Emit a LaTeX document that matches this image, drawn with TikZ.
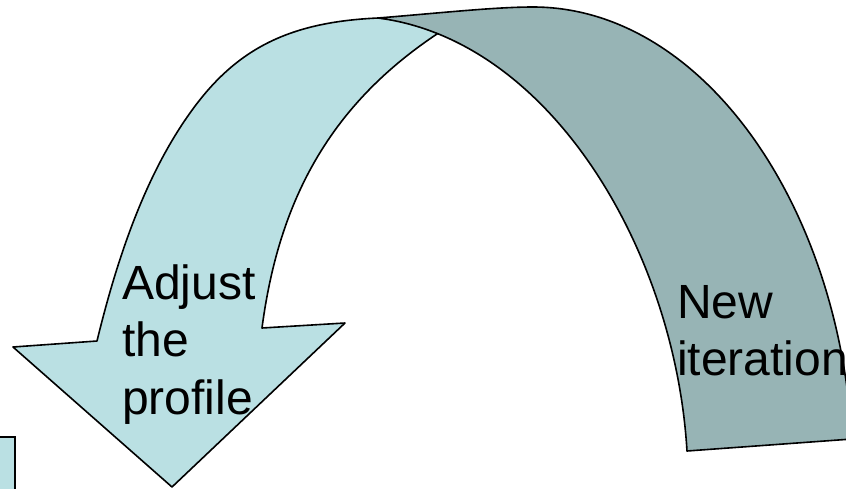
\documentclass[tikz,border=0pt]{standalone}
\usepackage{fontspec}
\setmainfont{Liberation Sans}
\definecolor{lightband}{RGB}{186,224,227}
\definecolor{darkband}{RGB}{151,180,181}
\begin{document}
\begin{tikzpicture}[x=1pt,y=-1pt,
  band/.style={draw=black, line width=1.6pt, line join=round},
  lbl/.style={font=\fontsize{48}{57.5}\selectfont, align=left, inner sep=0pt, anchor=base west}]
\useasboundingbox (0,0) rectangle (846,488);
\clip (0,0) rectangle (846,488);
% small box at the lower left corner
\draw[line width=2.5pt, fill=lightband] (-10,437) rectangle (15,500);
% front (light) part of the ribbon with the arrow head
\draw[band, fill=lightband] (172,487) -- (345,323) -- (262,328)
  .. controls (279,199) and (331,103.5) .. (440,32)
  -- (450,25.5) -- (415,20) -- (378,18)
  .. controls (290,22) and (236,48) .. (190,113)
  .. controls (143.6,177.8) and (116,263) .. (97,341)
  -- (13,347) -- cycle;
% back (dark) part of the ribbon
\draw[band, fill=darkband] (378,18)
  .. controls (440,13) and (495,7) .. (533,7)
  .. controls (700,7) and (838,200) .. (852,439)
  -- (687,451)
  .. controls (675,250) and (550,40) .. (378,18)
  -- cycle;
\node[lbl] (adj) at (122,414) {Adjust\\the\\profile};
\node[lbl] (new) at (677,375.5) {New\\iteration};
\end{tikzpicture}
\end{document}
